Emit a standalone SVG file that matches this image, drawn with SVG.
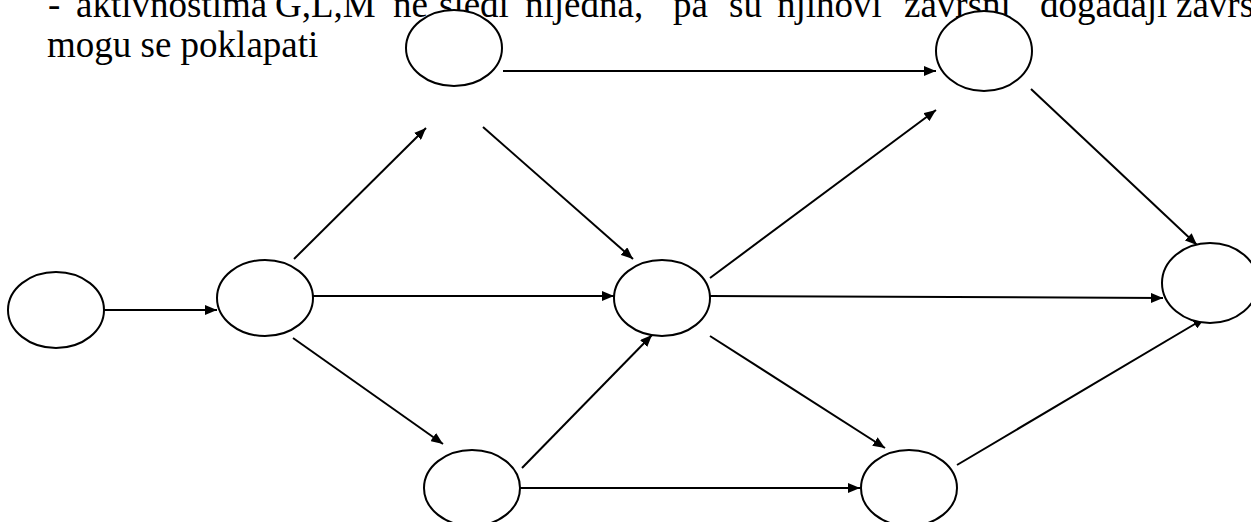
<svg xmlns="http://www.w3.org/2000/svg" width="1251" height="522" viewBox="0 0 1251 522">
<style>
.n{fill:#fff;stroke:#000;stroke-width:2}
.e{stroke:#000;stroke-width:2;fill:none;marker-end:url(#ah)}
.t{font-family:"Liberation Serif","Times New Roman",Times,"DejaVu Serif",serif;font-size:37px;fill:#000}
</style>
<defs>
<marker id="ah" viewBox="0 0 12 10" refX="12" refY="5" markerWidth="12" markerHeight="10" markerUnits="userSpaceOnUse" orient="auto">
<path d="M0,0 L12,5 L0,10 Z" fill="#000"/>
</marker>
</defs>
<rect width="1251" height="522" fill="#fff"/>
<text class="t" y="17"><tspan x="48">-</tspan><tspan x="76">aktivnostima</tspan><tspan x="275">G,L,M</tspan><tspan x="393">ne</tspan><tspan x="439">sledi</tspan><tspan x="525">nijedna,</tspan><tspan x="673">pa</tspan><tspan x="729">su</tspan><tspan x="777">njihovi</tspan><tspan x="904">završni</tspan><tspan x="1040">događaji</tspan><tspan x="1176">završni</tspan></text>
<text class="t" x="47" y="57">mogu se poklapati</text>
<g id="edges">
<line class="e" x1="104" y1="310" x2="217" y2="310"/>
<line class="e" x1="294" y1="259" x2="426" y2="128"/>
<line class="e" x1="313" y1="296" x2="614" y2="296"/>
<line class="e" x1="293" y1="338" x2="443" y2="444"/>
<line class="e" x1="503" y1="71" x2="936" y2="71"/>
<line class="e" x1="483" y1="127" x2="633" y2="259"/>
<line class="e" x1="1031" y1="89" x2="1197" y2="245"/>
<line class="e" x1="710" y1="278" x2="936" y2="110"/>
<line class="e" x1="710" y1="296" x2="1163" y2="298"/>
<line class="e" x1="710" y1="336" x2="885" y2="448"/>
<line class="e" x1="522" y1="468" x2="652" y2="335"/>
<line class="e" x1="520" y1="488" x2="860" y2="488"/>
<line class="e" x1="957" y1="465" x2="1205" y2="318"/>
</g>
<g id="n1"><ellipse class="n" cx="56" cy="310" rx="48" ry="38"/></g>
<g id="n2"><ellipse class="n" cx="265" cy="298" rx="48" ry="38"/></g>
<g id="n3"><ellipse class="n" cx="454" cy="48" rx="48" ry="38"/></g>
<g id="n4"><ellipse class="n" cx="984" cy="51" rx="48" ry="40"/></g>
<g id="n5"><ellipse class="n" cx="662" cy="298" rx="48" ry="38"/></g>
<g id="n6"><ellipse class="n" cx="1210" cy="283" rx="48" ry="40"/></g>
<g id="n7"><ellipse class="n" cx="472" cy="488" rx="48" ry="38"/></g>
<g id="n8"><ellipse class="n" cx="909" cy="488" rx="48" ry="38"/></g>
</svg>
